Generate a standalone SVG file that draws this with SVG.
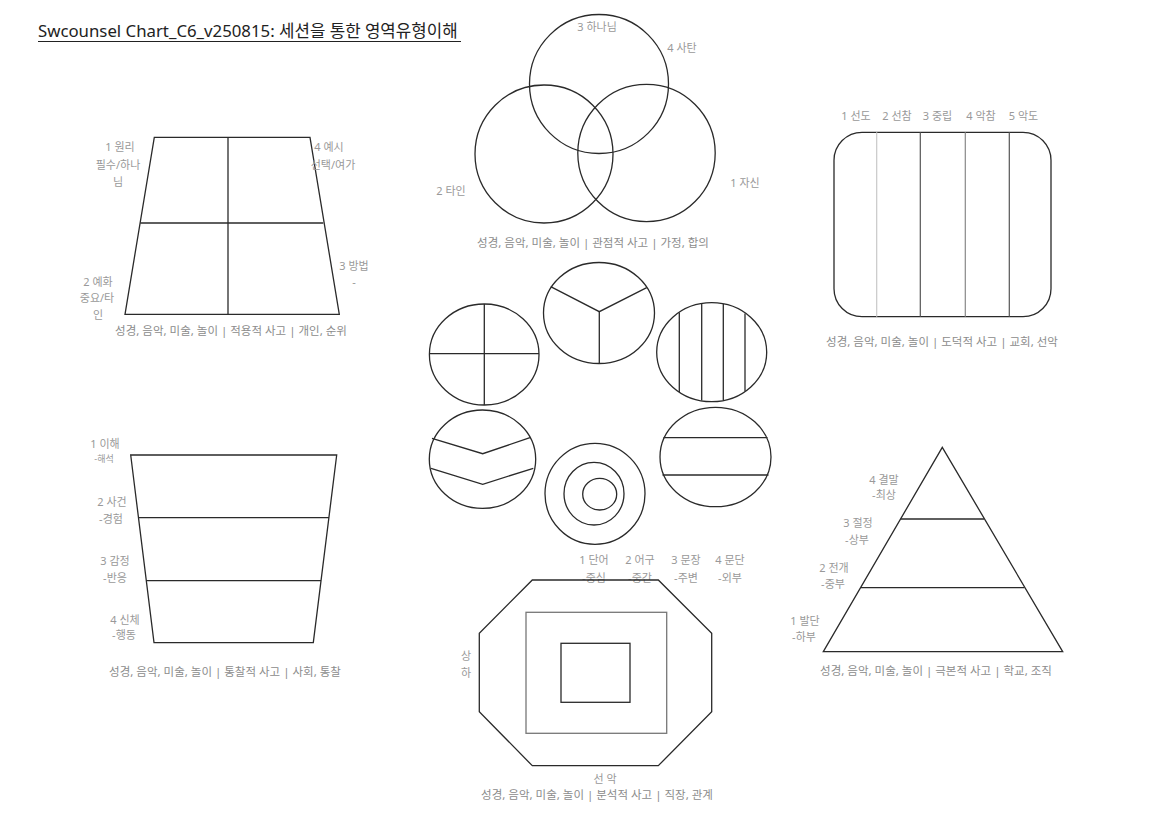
<svg xmlns="http://www.w3.org/2000/svg" width="1152" height="814" viewBox="0 0 1152 814">
<style>
text{font-family:"Noto Sans","Noto Sans CJK KR",sans-serif;}
.t{font-size:16.8px;fill:#222;}
.l{font-size:11px;fill:#999;text-anchor:middle;dominant-baseline:central;}
.b{font-size:11.5px;fill:#8c8c8c;text-anchor:middle;dominant-baseline:central;}
.s{fill:none;stroke:#2a2a2a;stroke-width:1.3;}
</style>
<rect width="1152" height="814" fill="#fff"/>
<g id="title">
<text class="t" x="38" y="37">Swcounsel Chart_C6_v250815: 세션을 통한 영역유형이해</text>
<line x1="38" y1="41.5" x2="461" y2="41.5" stroke="#222" stroke-width="1"/>
</g>
<g id="trapezoid-quadrants">
<polygon class="s" points="154.3,137.3 310,137.3 339.3,314.3 125,314.3"/>
<line class="s" x1="228" y1="137.3" x2="228" y2="314.3"/>
<line class="s" x1="140.3" y1="223" x2="323.3" y2="223"/>
<text class="l" x="120" y="146">1 원리</text>
<text class="l" x="118" y="164">필수/하나</text>
<text class="l" x="118" y="181">님</text>
<text class="l" x="329" y="146">4 예시</text>
<text class="l" x="333" y="164">선택/여가</text>
<text class="l" x="354" y="265">3 방법</text>
<text class="l" x="354" y="281">-</text>
<text class="l" x="98" y="281">2 예화</text>
<text class="l" x="97" y="297">중요/타</text>
<text class="l" x="98" y="314">인</text>
<text class="b" x="231" y="330">성경, 음악, 미술, 놀이  | 적용적 사고 | 개인, 순위</text>
</g>
<g id="venn">
<circle class="s" cx="599" cy="84" r="69.5"/>
<circle class="s" cx="544" cy="154" r="69"/>
<circle class="s" cx="646.5" cy="153" r="68.7"/>
<text class="l" x="597" y="26">3 하나님</text>
<text class="l" x="682" y="47">4 사탄</text>
<text class="l" x="451" y="190">2 타인</text>
<text class="l" x="745" y="182">1 자신</text>
<text class="b" x="593" y="242">성경, 음악, 미술, 놀이 | 관점적 사고 | 가정, 합의</text>
</g>
<g id="columns">
<rect class="s" x="834" y="132.3" width="217" height="184.4" rx="28" ry="28"/>
<line x1="876.7" y1="132.3" x2="876.7" y2="316.7" stroke="#c8c8c8" stroke-width="1.2"/>
<line x1="920.3" y1="132.3" x2="920.3" y2="316.7" stroke="#555" stroke-width="1.2"/>
<line x1="965.3" y1="132.3" x2="965.3" y2="316.7" stroke="#888" stroke-width="1.2"/>
<line x1="1009.3" y1="132.3" x2="1009.3" y2="316.7" stroke="#555" stroke-width="1.2"/>
<text class="l" x="856" y="115">1 선도</text>
<text class="l" x="897" y="115">2 선참</text>
<text class="l" x="937.5" y="115">3 중립</text>
<text class="l" x="981" y="115">4 악참</text>
<text class="l" x="1023.5" y="115">5 악도</text>
<text class="b" x="942" y="341">성경, 음악, 미술, 놀이 | 도덕적 사고 | 교회, 선악</text>
</g>
<g id="circle-y">
<ellipse class="s" cx="599" cy="313" rx="55.5" ry="50.5"/>
<polyline class="s" points="550.7,286.7 599.3,311.7 646.7,287.7"/>
<line class="s" x1="599.3" y1="311.7" x2="599.3" y2="363.3"/>
</g>
<g id="circle-cross">
<ellipse class="s" cx="484.2" cy="354.5" rx="54.8" ry="50.5"/>
<line class="s" x1="484.3" y1="304" x2="484.3" y2="405"/>
<line class="s" x1="429.4" y1="353.7" x2="539" y2="353.7"/>
</g>
<g id="circle-vertical">
<ellipse class="s" cx="711.7" cy="352.2" rx="55" ry="49.5"/>
<line class="s" x1="679.3" y1="312.4" x2="679.3" y2="392"/>
<line class="s" x1="701.7" y1="303.8" x2="701.7" y2="400.6"/>
<line class="s" x1="723.3" y1="304.1" x2="723.3" y2="400.3"/>
<line class="s" x1="745" y1="313.4" x2="745" y2="391"/>
</g>
<g id="circle-chevron">
<ellipse class="s" cx="482.5" cy="459.2" rx="53.2" ry="49.2"/>
<polyline class="s" points="432,438.3 482.7,453.7 530,437.7"/>
<polyline class="s" points="431,468.3 482.7,484.3 533.3,468.3"/>
</g>
<g id="circle-horizontal">
<ellipse class="s" cx="715.5" cy="457" rx="55.5" ry="49.7"/>
<line class="s" x1="663.5" y1="437.7" x2="767.5" y2="437.7"/>
<line class="s" x1="662.5" y1="475" x2="768.5" y2="475"/>
</g>
<g id="circle-concentric">
<ellipse class="s" cx="595" cy="493.8" rx="50" ry="50.5"/>
<ellipse class="s" cx="594" cy="493.7" rx="30" ry="31.3"/>
<ellipse class="s" cx="599.7" cy="494.2" rx="17" ry="15.8"/>
<text class="l" x="594" y="559">1 단어</text>
<text class="l" x="594" y="577">-중심</text>
<text class="l" x="640" y="559">2 어구</text>
<text class="l" x="640" y="577">-중간</text>
<text class="l" x="686" y="559">3 문장</text>
<text class="l" x="686" y="577">-주변</text>
<text class="l" x="730" y="559">4 문단</text>
<text class="l" x="730" y="577">-외부</text>
</g>
<g id="funnel">
<polygon class="s" points="130.7,455 336.7,455 313.3,642.7 154,642.7"/>
<line class="s" x1="138.3" y1="517.7" x2="329" y2="517.7"/>
<line class="s" x1="146" y1="580.7" x2="321" y2="580.7" stroke-width="1.7" stroke="#111"/>
<text class="l" x="105" y="443">1 이해</text>
<text class="l" x="104" y="458" style="font-size:9px">-해석</text>
<text class="l" x="112" y="501">2 사건</text>
<text class="l" x="111" y="518">-경험</text>
<text class="l" x="115" y="560">3 감정</text>
<text class="l" x="115" y="577">-반응</text>
<text class="l" x="125" y="619">4 신체</text>
<text class="l" x="124" y="634">-행동</text>
<text class="b" x="225" y="671">성경, 음악, 미술, 놀이 | 통찰적 사고 | 사회, 통찰</text>
</g>
<g id="pyramid">
<polygon class="s" points="942.3,447.3 1062.7,651.7 823.3,651.7"/>
<line class="s" x1="900.7" y1="519" x2="984" y2="519"/>
<line class="s" x1="861" y1="587.7" x2="1024.3" y2="587.7"/>
<text class="l" x="884" y="479">4 결말</text>
<text class="l" x="884" y="494">-최상</text>
<text class="l" x="858" y="522">3 절정</text>
<text class="l" x="857" y="539">-상부</text>
<text class="l" x="834" y="567">2 전개</text>
<text class="l" x="833" y="583">-중부</text>
<text class="l" x="805" y="620">1 발단</text>
<text class="l" x="804" y="636">-하부</text>
<text class="b" x="936" y="670">성경, 음악, 미술, 놀이 | 극본적 사고 | 학교, 조직</text>
</g>
<g id="octagon">
<polygon class="s" points="532.3,580 658.3,580 711.7,633.3 711.7,711.7 658.3,765.7 532.3,765.7 479.3,711.7 479.3,633.3"/>
<rect x="526" y="612.3" width="140.7" height="121" fill="none" stroke="#777" stroke-width="1.3"/>
<rect class="s" x="561" y="643.3" width="69" height="59"/>
<text class="l" x="466" y="655">상</text>
<text class="l" x="466" y="672">하</text>
<text class="l" x="605" y="778">선 악</text>
<text class="b" x="597" y="794">성경, 음악, 미술, 놀이 | 분석적 사고 | 직장, 관계</text>
</g>
</svg>
